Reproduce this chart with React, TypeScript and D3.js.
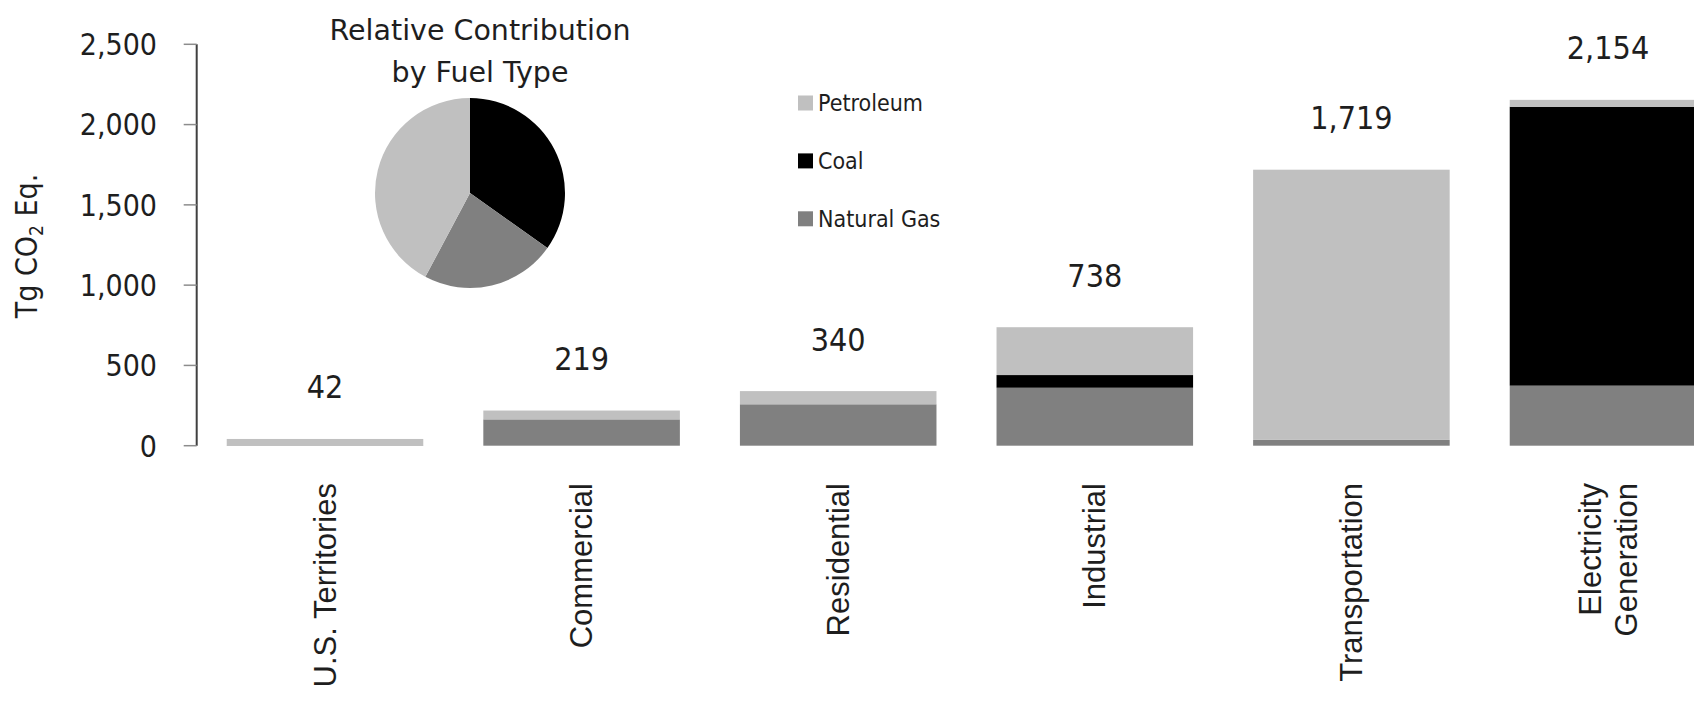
import React from "react";
import * as d3 from "d3";

// ---------- data ----------
const categories = ["U.S. Territories", "Commercial", "Residential", "Industrial", "Transportation", "Electricity Generation"];
const categoryLines = [["U.S. Territories"], ["Commercial"], ["Residential"], ["Industrial"], ["Transportation"], ["Electricity", "Generation"]];
const petroleum = [39, 55, 82, 298, 1683, 43];
const coal = [0, 0, 0, 79, 0, 1737];
const naturalGas = [3, 164, 258, 361, 36, 374];
const totals = [42, 219, 340, 738, 1719, 2154];
const yTicks = [0, 500, 1000, 1500, 2000, 2500];
const fuelNames = ["Petroleum", "Coal", "Natural Gas"];

// ---------- styles ----------
const COLORS: Record<string, string> = { petroleum: "#c0c0c0", coal: "#000000", naturalGas: "#808080" };
const TAHOMA = "'DejaVu Sans Condensed', 'Noto Sans', sans-serif";
const VERDANA = "'DejaVu Sans', Verdana, sans-serif";
const ARIAL = "'Liberation Sans', Arial, sans-serif";
const TEXT = "#1e1e1e";

const W = 1694;
const H = 703;

export default function App() {
  const axisX = 196.7;
  const y = d3.scaleLinear().domain([0, 2500]).range([445.7, 44.3]);
  const step = 256.6;
  const x = d3
    .scaleBand<string>()
    .domain(categories)
    .range([axisX, axisX + step * categories.length])
    .paddingInner(0.234)
    .paddingOuter(0.117);

  const rows = categories.map((c, i) => ({
    cat: c,
    naturalGas: naturalGas[i],
    coal: coal[i],
    petroleum: petroleum[i],
  }));
  const keys = ["naturalGas", "coal", "petroleum"];
  const stacked = d3.stack<any>().keys(keys)(rows);

  // pie of totals by fuel
  const pieData = [
    { key: "coal", value: d3.sum(coal) },
    { key: "naturalGas", value: d3.sum(naturalGas) },
    { key: "petroleum", value: d3.sum(petroleum) },
  ];
  const pie = d3.pie<any>().sort(null).value((d) => d.value)(pieData);
  const arc = d3.arc<any>().innerRadius(0).outerRadius(95);
  const fmt = d3.format(",");

  const legendKeys = ["petroleum", "coal", "naturalGas"];

  return (
    <svg
      width={W}
      height={H}
      style={{ position: "absolute", left: 0, top: 0, background: "#fff" }}
    >
      {/* bars */}
      {stacked.map((layer) => (
        <g key={layer.key} fill={COLORS[layer.key]}>
          {layer.map((d, i) => (
            <rect
              key={i}
              x={x(categories[i])}
              width={x.bandwidth()}
              y={y(d[1])}
              height={Math.max(0, y(d[0]) - y(d[1]))}
            />
          ))}
        </g>
      ))}

      {/* y axis */}
      <line x1={axisX} x2={axisX} y1={y(2500)} y2={y(0)} stroke="#404040" strokeWidth={2} />
      {yTicks.map((t) => (
        <g key={t}>
          <line x1={axisX - 13} x2={axisX} y1={y(t)} y2={y(t)} stroke="#8c8c8c" strokeWidth={1.5} />
          <text
            x={157}
            y={y(t)}
            dy="0.36em"
            textAnchor="end"
            fontFamily={TAHOMA}
            fontSize={30}
            fill={TEXT}
          >
            {fmt(t)}
          </text>
        </g>
      ))}

      {/* y axis title */}
      <text
        transform={`translate(37,246) rotate(-90)`}
        textAnchor="middle"
        fontFamily={TAHOMA}
        fontSize={30}
        fill={TEXT}
      >
        Tg CO<tspan fontSize={19} dy="6">2</tspan>
        <tspan dy="-6"> Eq.</tspan>
      </text>

      {/* value labels */}
      {totals.map((t, i) => (
        <text
          key={i}
          x={(x(categories[i]) as number) + x.bandwidth() / 2}
          y={y(t) - 52}
          dy="0.36em"
          textAnchor="middle"
          fontFamily={TAHOMA}
          fontSize={32}
          fill={TEXT}
        >
          {fmt(t)}
        </text>
      ))}

      {/* category labels */}
      {categoryLines.map((lines, i) => {
        const cx = (x(categories[i]) as number) + x.bandwidth() / 2;
        return lines.map((ln, j) => (
          <text
            key={i + "-" + j}
            transform={`translate(${cx + (j - (lines.length - 1) / 2) * 36},483) rotate(-90)`}
            textAnchor="end"
            dominantBaseline="central"
            fontFamily={ARIAL}
            fontSize={31}
            fill={TEXT}
          >
            {ln}
          </text>
        ));
      })}

      {/* pie title */}
      <text x={480} y={40} textAnchor="middle" fontFamily={VERDANA} fontSize={28.5} fill={TEXT}>
        Relative Contribution
      </text>
      <text x={480} y={82} textAnchor="middle" fontFamily={VERDANA} fontSize={28.5} fill={TEXT}>
        by Fuel Type
      </text>

      {/* pie */}
      <g transform="translate(470,193)">
        {pie.map((p) => (
          <path key={p.data.key} d={arc(p) as string} fill={COLORS[p.data.key]} />
        ))}
      </g>

      {/* legend */}
      {legendKeys.map((k, i) => {
        const cy = 103 + i * 57.9;
        return (
          <g key={k}>
            <rect x={798} y={cy - 7.5} width={15} height={15} fill={COLORS[k]} />
            <text x={818} y={cy} dy="0.36em" fontFamily={TAHOMA} fontSize={23} fill={TEXT}>
              {fuelNames[i]}
            </text>
          </g>
        );
      })}
    </svg>
  );
}
